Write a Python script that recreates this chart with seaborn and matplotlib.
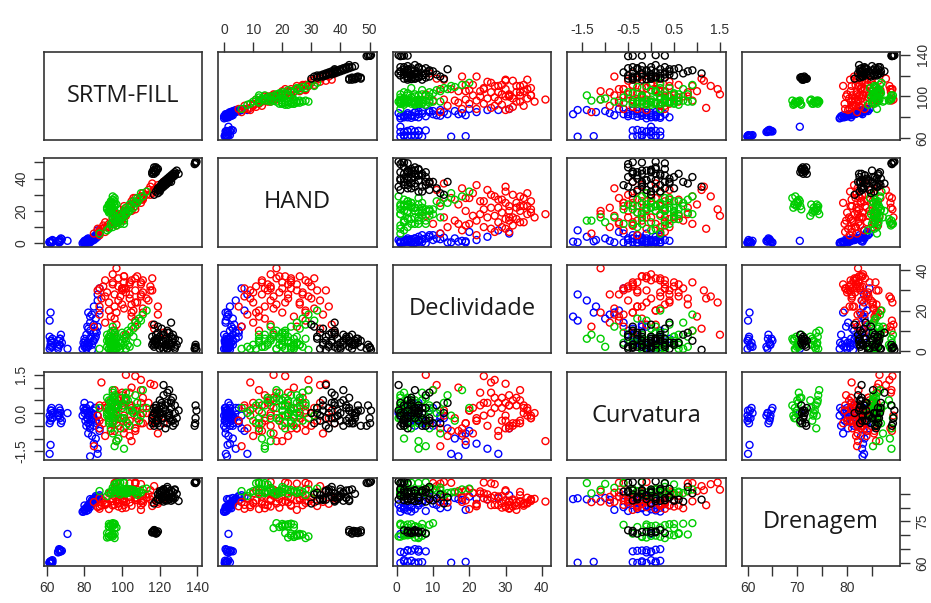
import matplotlib
matplotlib.use("Agg")
import matplotlib.pyplot as plt
import seaborn as sns
import pandas as pd

sns.set_style("white")
plt.rcParams['font.family'] = ['Liberation Sans', 'DejaVu Sans']

variaveis = ['SRTM-FILL', 'HAND', 'Declividade', 'Curvatura', 'Drenagem']
ordem = ['azul', 'vermelho', 'verde', 'preto']
cores = {'preto': '#000000', 'vermelho': '#FF0000', 'verde': '#00CD00', 'azul': '#0000FF'}

# grupo preto
srtm_preto = [116, 117, 118, 116, 117, 119, 118, 117,
              118, 119, 120, 120, 121, 121, 122, 122, 123, 123, 124, 124, 125, 125, 126, 126,
              127, 127, 128, 128, 129, 130, 119, 117, 122, 124, 120, 126,
              138.5, 139, 139.5, 139, 138.8,
              119, 121, 123, 125, 127, 122, 124, 126, 120, 128, 121, 125,
              116.5, 118.5, 117.5, 118]
hand_preto = [44, 45, 46, 43, 47, 46, 44, 43,
              32, 33, 34, 35, 36, 34, 37, 38, 36, 39, 40, 38, 41, 39, 42, 40,
              43, 41, 44, 42, 45, 43, 31, 30, 35, 37, 33, 38,
              49, 50, 50.5, 49.5, 50.2,
              34, 35, 38, 40, 42, 36, 39, 41, 32, 43, 37, 38,
              45, 45.5, 44.5, 47]
decl_preto = [3, 5, 4, 7, 2, 6, 8, 5,
              6, 9, 4, 7, 2, 11, 5, 8, 3, 6, 1, 10, 5, 3, 7, 2,
              4, 8, 1, 6, 3, 5, 12, 13, 0.5, 9, 1, 14,
              1, 2, 0.5, 3, 1.5,
              3, 5, 2, 4, 6, 8, 1, 3, 7, 2, 4, 9,
              4, 6, 3, 5]
curv_preto = [-0.4, 0.0, 0.3, -0.2, -0.5, 0.1, -0.3, 0.2,
              0.2, -0.3, 0.5, -0.5, 0.0, 0.3, -0.2, 0.7, -0.6, 0.1, 0.4, -0.4, 0.9, -0.1, 0.2, -0.3,
              0.6, -0.5, 0.0, 0.3, -0.2, 0.1, -0.4, 0.0, 1.1, 0.8, -0.1, 0.4,
              -0.5, -0.2, 0.1, 0.3, -0.4,
              0.1, -0.2, 0.3, 0.0, -0.3, 0.2, -0.1, 0.5, 0.0, -0.4, 0.4, -0.2,
              -0.1, 0.0, -0.4, 0.1]
dren_preto = [71, 71.5, 70.8, 71.2, 71.8, 71.4, 70.6, 71.9,
              82.5, 83, 82.8, 86, 85.5, 83.4, 86.4, 82.2, 85.8, 83.8, 86.8, 82.6, 85.2, 83.1, 86.2, 84,
              82.9, 85.6, 86.6, 83.5, 85, 82.4, 84.8, 81.5, 82.9, 87.5, 84.5, 83.7,
              89, 89.3, 89.5, 88.9, 89.2,
              83.2, 86.1, 82.7, 85.9, 83.6, 86.7, 84.2, 82.5, 85.4, 86.3, 83.9, 85.1,
              71.3, 70.9, 71.6, 71.1]

# grupo vermelho
srtm_verm = [88, 85, 91, 88, 87, 91, 93, 90, 93, 96, 91, 96, 95, 98, 95, 101, 98, 97, 102, 101,
             105, 101, 104, 101, 107, 105, 110, 105, 108, 111, 107, 111, 110, 115, 111, 116, 114, 119, 115, 119,
             116, 122, 96, 97, 107, 107, 100, 89, 100, 104, 110, 102, 97, 106, 116, 88, 117, 104, 100,
             92, 95, 98, 101, 104, 107, 110, 113, 96, 99, 102, 105, 108, 94, 100, 111]
hand_verm = [5, 6, 7, 8, 9, 10, 10, 11, 12, 13, 13, 14, 15, 16, 16, 17, 18, 18, 19, 20,
             20, 21, 22, 23, 23, 24, 25, 26, 26, 27, 28, 28, 29, 30, 31, 32, 33, 34, 35, 36,
             37, 38, 12, 16, 21, 25, 16, 9, 14, 22, 29, 17, 11, 28, 31, 7, 33, 23, 15,
             10, 13, 16, 19, 22, 25, 27, 30, 14, 17, 20, 23, 26, 12, 18, 28]
decl_verm = [22, 12, 27, 18, 30, 14, 24, 32, 20, 28, 35, 16, 33, 25, 38, 21, 36, 41, 29, 34,
             19, 37, 26, 31, 36, 17, 33, 23, 37, 29, 15, 35, 27, 32, 21, 30, 25, 18, 30, 22,
             13, 9, 10, 13, 24, 12, 31, 26, 31, 28, 34, 8, 19, 20, 36, 31, 11, 34, 30,
             29, 34, 32, 37, 33, 30, 28, 26, 22, 27, 31, 35, 24, 17, 23, 19]
curv_verm = [-0.3, -1.3, 0.2, -0.6, -0.1, -0.9, 0.4, -0.4, 0.1, -0.7, 0.3, -0.2, 0.6, -0.5, 0.0, -0.8, 0.2, -1.1, -0.3, 0.5,
             -1.1, -0.1, 0.8, -0.6, 0.1, 1.0, -0.4, 0.3, -0.2, 0.6, -0.7, 0.0, 1.3, -0.5, 0.2, -0.3, 0.4, -0.8, 1.15, -0.2,
             0.1, -0.4, 0.9, -0.1, 1.45, -0.6, 0.3, 1.2, 0.7, -0.9, 0.9, 1.5, -0.4, 0.1, -0.1, 0.3, 1.1, -0.3, 0.4,
             0.2, -0.4, 0.5, -0.2, 0.3, -0.6, 0.4, 0.0, -0.3, 0.6, -0.5, 0.2, -0.1, -0.7, 0.8, -0.4]
dren_verm = [80.5, 82, 81, 83.5, 80.2, 81.8, 85.2, 82.6, 79.5, 84, 81.3, 85.6, 80.8, 82.9, 83.2, 85.4, 81.5, 82.2, 80, 84.5,
             85.8, 82.4, 88.8, 81, 83.6, 86, 79.2, 85.1, 82.8, 84.2, 89, 81.7, 88.5, 83, 85.3, 80.6, 84.8, 82.1, 86.3, 81.4,
             84, 83.3, 88.9, 89.3, 89.1, 88.7, 82.5, 80.9, 79.8, 83.9, 82.3, 86.5, 86.2, 86.7, 81.9, 79.6, 87.8, 85.7, 85.9,
             81.6, 82.3, 80.4, 83.1, 81.9, 82.7, 80.9, 83.7, 81.1, 84.3, 82, 80.7, 83.4, 85.5, 85.9, 82.6]

# grupo verde
srtm_verde = [93, 94, 92, 95, 94, 93, 96, 92, 95, 94, 95, 93, 96, 94, 97, 95, 93, 96,
              93, 95, 94, 97, 96, 99, 97, 100, 99, 102, 101, 103, 102, 105, 104, 107,
              106, 109, 108, 111, 110, 113, 97, 99, 98, 101, 101, 96, 92, 88, 96, 95,
              94, 95, 93, 96, 94, 95, 93, 96,
              98, 100, 103, 106, 108, 95, 102, 104]
hand_verde = [24, 26, 22, 27, 25, 23, 28, 21, 29, 20, 22, 19, 23, 21, 24, 18, 20, 17,
              9, 10, 12, 13, 14, 15, 16, 17, 18, 19, 20, 21, 22, 23, 24, 25,
              26, 27, 28, 29, 31, 32, 11, 12, 13, 14, 12, 15, 8, 6, 20, 16,
              23, 25, 24, 26, 21, 22, 20, 24,
              14, 16, 19, 22, 25, 12, 18, 20]
decl_verde = [1, 3, 5, 2, 7, 4, 6, 8, 0.5, 2, 4, 6, 1, 9, 3, 10, 5, 7,
              1, 3, 5, 2, 8, 4, 6, 9, 1, 7, 3, 10, 5, 12, 2, 14,
              11, 16, 13, 18, 15, 20, 1, 4, 2, 6, 8, 3, 2, 1, 9, 12,
              2, 4, 6, 3, 1, 5, 7, 3,
              2, 5, 3, 7, 4, 6, 1, 9]
curv_verde = [0.2, 0.5, -0.1, 0.8, 0.0, -0.4, 0.3, 0.6, -0.2, 0.1, 0.4, -0.3, 0.7, -0.6, 0.2, 0.9, -0.1, 0.5,
              0.1, -0.3, 0.4, 0.0, -1.3, 0.6, -1.1, 0.2, -0.2, 0.8, 0.3, -0.4, 0.5, 0.1, -0.5, 0.7,
              0.0, -0.3, 0.4, 0.9, -0.1, 0.2, 0.3, -0.6, -1.0, -1.4, -0.2, 0.5, 0.0, 0.2, 0.3, -0.8,
              0.1, 0.4, -0.2, 0.6, 0.3, 0.0, 0.5, -0.1,
              0.3, -0.2, 0.5, 0.0, 0.2, -0.4, 0.6, 0.1]
dren_verde = [69.5, 70, 69.2, 70.3, 69.8, 70.6, 69, 70.8, 69.6, 73.5, 74, 73, 74.2, 73.8, 72.8, 74.4, 73.2, 72.6,
              85.5, 86, 85, 86.3, 85.2, 85.8, 86.5, 85.4, 84.8, 86.1, 85.6, 86.8, 85.1, 86.4, 85.9, 85.3,
              86.2, 85.7, 84.6, 86.6, 85.5, 86.9, 88.8, 89, 88.6, 88.9, 89.2, 88.4, 84.2, 86, 87.5, 87.2,
              69.9, 70.2, 69.4, 70.5, 73.7, 73.3, 74.1, 73.9,
              85.7, 86.1, 85.3, 86.4, 85.8, 86.2, 85.5, 86.7]

# grupo azul
srtm_azul = [61.5, 62, 62, 63, 61.5, 62.5, 63, 61.5, 62,
             66, 67, 66.5, 67.5, 66, 67, 68, 71,
             79, 80, 80.5, 81, 81, 82, 82, 83, 83, 84, 84, 85, 85, 86, 86, 87, 87, 88,
             84, 85, 86, 83, 82, 87, 88, 80, 81.5,
             80, 81.5, 82.5, 83.5, 84.5, 85.5, 86.5, 81, 83, 85, 79.5, 82,
             62, 62.5, 66.5, 67]
hand_azul = [0.5, 1, 0.2, 1.5, 0.8, 0.3, 2, 0.6, 1.2,
             1, 2, 0.5, 3, 1.5, 0.8, 2.5, 1.5,
             0, 1, 0.5, 2, 0, 1, 3, 2, 0.5, 3, 1.5, 4, 2, 5, 3, 6, 4, 7,
             2, 3, 5, 1, 0.5, 8, 6, 1.5, 2.5,
             0.5, 1.5, 2, 2.5, 3, 4, 5, 1, 2, 3.5, 0.5, 1.5,
             0.8, 0.4, 1.2, 2]
decl_azul = [1, 3, 5, 2, 7, 4, 6, 15, 19,
             1, 3, 5, 8, 2, 6, 4, 1,
             1, 3, 5, 2, 8, 4, 11, 6, 14, 3, 18, 9, 22, 7, 16, 12, 25, 20,
             0.5, 5, 10, 17, 19, 28, 31, 6, 12,
             2, 4, 3, 7, 5, 6, 9, 1, 10, 13, 4, 2,
             2, 5, 3, 6]
curv_azul = [-0.1, 0.1, -0.3, 0.0, -0.4, 0.2, -0.2, -1.6, -1.25,
             0.0, -0.2, 0.2, -0.4, -0.1, 0.1, -0.3, 0.0,
             -0.1, 0.1, -0.3, 0.2, -0.5, 0.0, -0.4, 0.3, -0.6, -0.2, -0.9, 0.1, -1.2, -0.3, -1.0, -0.1, -1.4, -0.7,
             0.0, -0.5, 0.2, -1.7, -0.8, -1.6, -0.6, 0.4, -0.2,
             0.0, -0.2, 0.1, -0.3, -0.1, 0.2, -0.4, 0.1, -0.5, -0.2, 0.2, -0.1,
             -0.2, 0.1, -0.1, 0.0]
dren_azul = [60, 60.5, 60, 61, 60.3, 60.8, 60.2, 60.1, 60.4,
             64, 64.5, 65, 64.2, 63.8, 64.8, 64.4, 70.5,
             78.5, 79, 79.5, 80, 78.8, 80.5, 81, 81.5, 80.2, 82, 82.8, 83, 83.2, 82.5, 83.5, 83.8, 83, 84,
             81.2, 82.2, 84.2, 83.1, 79.2, 83.4, 84.5, 80.8, 79.8,
             79.4, 80.1, 80.9, 81.8, 82.4, 83.3, 83.9, 79.9, 81.4, 82.6, 78.6, 80.6,
             60.6, 60.1, 64.6, 64.1]

# tick labels (R pairs style: alternating sides, some labels dropped)
ticks_x = {
    'SRTM-FILL': ([60, 80, 100, 120, 140], ['60', '80', '100', '120', '140']),
    'HAND': ([0, 10, 20, 30, 40, 50], ['0', '10', '20', '30', '40', '50']),
    'Declividade': ([0, 10, 20, 30, 40], ['0', '10', '20', '30', '40']),
    'Curvatura': ([-1.5, -1, -0.5, 0, 0.5, 1, 1.5], ['-1.5', '', '-0.5', '', '0.5', '', '1.5']),
    'Drenagem': ([60, 65, 70, 75, 80, 85], ['60', '', '70', '', '80', '']),
}
ticks_y = {
    'SRTM-FILL': ([60, 80, 100, 120, 140], ['60', '', '100', '', '140']),
    'HAND': ([0, 10, 20, 30, 40, 50], ['0', '', '20', '', '40', '']),
    'Declividade': ([0, 10, 20, 30, 40], ['0', '', '20', '', '40']),
    'Curvatura': ([-1.5, -1, -0.5, 0, 0.5, 1, 1.5], ['-1.5', '', '', '0.0', '', '', '1.5']),
    'Drenagem': ([60, 65, 70, 75, 80, 85], ['60', '', '', '75', '', '']),
}

grupos = {
    'azul': (srtm_azul, hand_azul, decl_azul, curv_azul, dren_azul),
    'vermelho': (srtm_verm, hand_verm, decl_verm, curv_verm, dren_verm),
    'verde': (srtm_verde, hand_verde, decl_verde, curv_verde, dren_verde),
    'preto': (srtm_preto, hand_preto, decl_preto, curv_preto, dren_preto),
}
partes = []
for nome in ordem:
    d = pd.DataFrame(dict(zip(variaveis, grupos[nome])))
    d['grupo'] = nome
    partes.append(d)
df = pd.concat(partes, ignore_index=True)

lims = {}
for v in variaveis:
    lo, hi = df[v].min(), df[v].max()
    r = (hi - lo) * 0.04
    lims[v] = (lo - r, hi + r)

fig, axes = plt.subplots(5, 5, figsize=(9.31, 6.03), dpi=100)
fig.subplots_adjust(left=0.047, right=0.967, top=0.914, bottom=0.061, wspace=0.10, hspace=0.21)

cor_eixo = '#333333'
for i, vy in enumerate(variaveis):
    for j, vx in enumerate(variaveis):
        ax = axes[i, j]
        if i == j:
            ax.text(0.5, 0.5, vx, transform=ax.transAxes, ha='center', va='center',
                    fontsize=17, family=['Open Sans', 'DejaVu Sans'], color='#1a1a1a')
        else:
            sns.scatterplot(data=df, x=vx, y=vy, hue='grupo', hue_order=ordem, palette=cores,
                            legend=False, ax=ax, s=25, marker='o')
            for coll in ax.collections:
                fc = coll.get_facecolors()
                coll.set_edgecolors(fc)
                coll.set_facecolors('none')
                coll.set_linewidth(1.0)
        ax.set_xlim(lims[vx])
        ax.set_ylim(lims[vy])
        ax.set_xlabel('')
        ax.set_ylabel('')
        ax.set_xticks([])
        ax.set_yticks([])
        for sp in ax.spines.values():
            sp.set_color(cor_eixo)
            sp.set_linewidth(1.2)
        ax.tick_params(direction='out', length=7, width=1, color=cor_eixo,
                       labelcolor=cor_eixo, labelsize=10, pad=4)

        if i == 0 and j % 2 == 1:
            t, lab = ticks_x[vx]
            ax.set_xticks(t)
            ax.set_xticklabels(lab)
            ax.tick_params(axis='x', top=True, labeltop=True, bottom=False, labelbottom=False)
        if i == 4 and j % 2 == 0:
            t, lab = ticks_x[vx]
            ax.set_xticks(t)
            ax.set_xticklabels(lab)
            ax.tick_params(axis='x', bottom=True, labelbottom=True)
        if j == 0 and i % 2 == 1:
            t, lab = ticks_y[vy]
            ax.set_yticks(t)
            ax.set_yticklabels(lab, rotation=90, va='center')
            ax.tick_params(axis='y', left=True, labelleft=True)
        if j == 4 and i % 2 == 0:
            t, lab = ticks_y[vy]
            ax.set_yticks(t)
            ax.set_yticklabels(lab, rotation=90, va='center')
            ax.tick_params(axis='y', right=True, labelright=True, left=False, labelleft=False)

fig.savefig('out.png', dpi=100, facecolor='white')
